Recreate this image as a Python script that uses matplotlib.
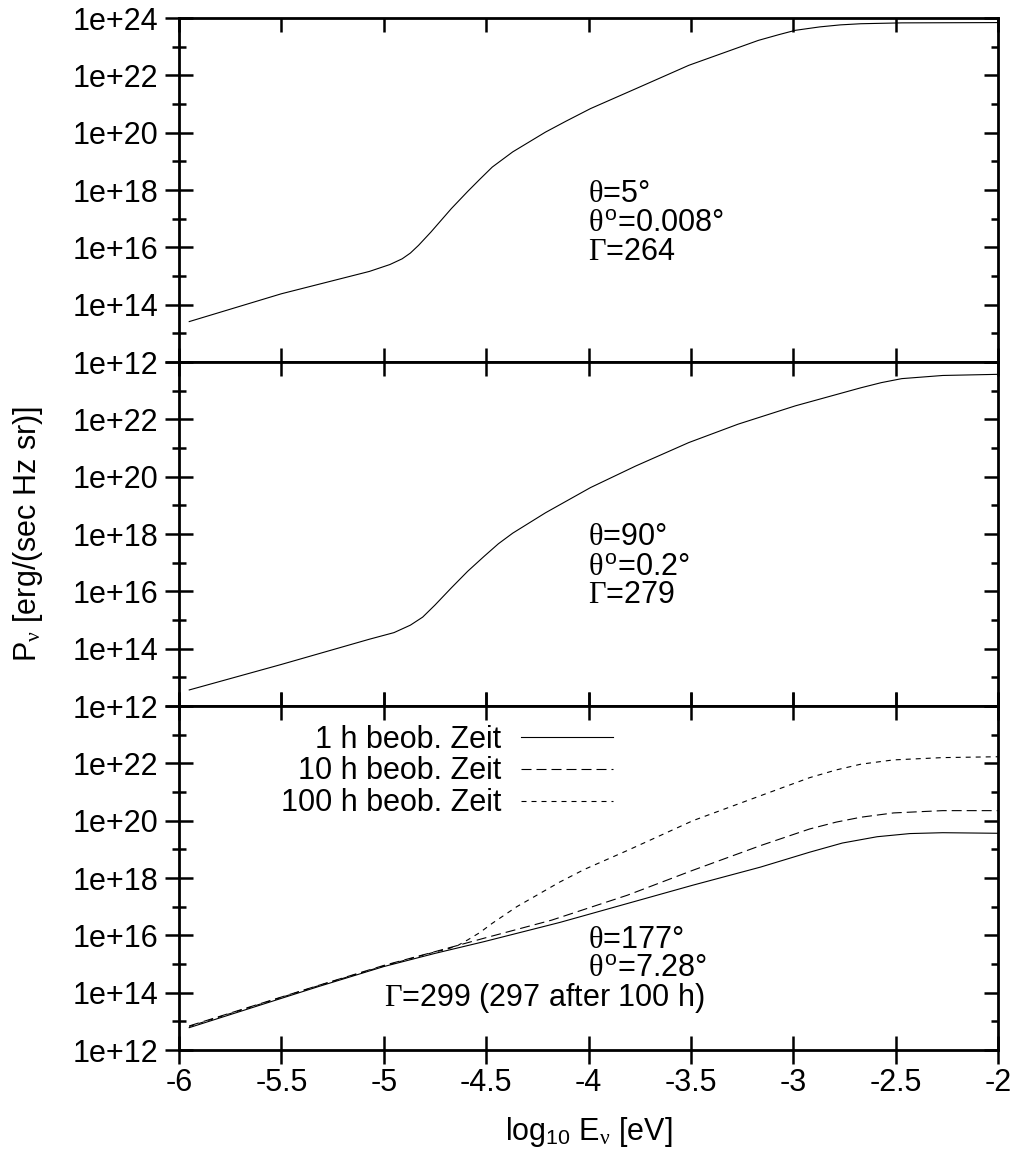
import numpy as np
import matplotlib
matplotlib.use("Agg")
import matplotlib.pyplot as plt
from matplotlib.ticker import FixedLocator, FuncFormatter, NullFormatter, NullLocator

plt.rcParams['font.family'] = ['Liberation Sans', 'DejaVu Sans']
plt.rcParams['mathtext.fontset'] = 'custom'
plt.rcParams['mathtext.rm'] = 'Liberation Serif'
plt.rcParams['mathtext.it'] = 'Liberation Serif'
plt.rcParams['mathtext.sf'] = 'Liberation Sans'
plt.rcParams['axes.unicode_minus'] = False

FS = 22

# --- data (x = log10 E, y = log10 P) ---
x_top = [-5.95, -5.5, -5.07, -4.97, -4.91, -4.87, -4.83, -4.77, -4.67, -4.59,
         -4.53, -4.47, -4.37, -4.21, -4.11, -3.99, -3.77, -3.51, -3.17, -3.07,
         -2.99, -2.87, -2.77, -2.67, -2.47, -2.0]
logp_top = [13.41, 14.38, 15.16, 15.40, 15.60, 15.80, 16.07, 16.53, 17.35, 17.95,
            18.38, 18.80, 19.33, 20.02, 20.40, 20.84, 21.53, 22.35, 23.22, 23.42,
            23.57, 23.69, 23.76, 23.80, 23.83, 23.84]

x_mid = [-5.95, -5.5, -5.07, -4.95, -4.87, -4.81, -4.75, -4.67, -4.59, -4.51,
         -4.44, -4.37, -4.21, -3.99, -3.77, -3.51, -3.27, -2.99, -2.67, -2.57,
         -2.47, -2.27, -2.0]
logp_mid = [12.56, 13.45, 14.33, 14.56, 14.82, 15.10, 15.52, 16.12, 16.70, 17.22,
            17.66, 18.03, 18.74, 19.62, 20.37, 21.19, 21.83, 22.47, 23.10, 23.28,
            23.42, 23.53, 23.57]

x_1h = [-5.95, -5.32, -5.0, -4.75, -4.51, -4.14, -3.81, -3.49, -3.16, -2.92,
        -2.76, -2.59, -2.43, -2.27, -2.0]
logp_1h = [12.78, 14.21, 14.91, 15.37, 15.78, 16.45, 17.11, 17.75, 18.38, 18.90,
           19.22, 19.44, 19.55, 19.58, 19.56]

x_10h = [-5.95, -5.32, -5.0, -4.75, -4.51, -4.18, -3.81, -3.49, -3.16, -2.92,
         -2.79, -2.67, -2.51, -2.27, -2.0]
logp_10h = [12.84, 14.25, 14.95, 15.43, 15.90, 16.53, 17.40, 18.27, 19.13, 19.71,
            19.95, 20.12, 20.27, 20.35, 20.35]

x_100h = [-5.95, -5.32, -5.0, -4.75, -4.69, -4.64, -4.59, -4.53, -4.47, -4.35,
          -4.14, -4.02, -3.81, -3.49, -3.16, -2.92, -2.79, -2.67, -2.51, -2.27, -2.0]
logp_100h = [12.82, 14.24, 14.93, 15.42, 15.52, 15.64, 15.84, 16.1, 16.42, 17.0,
             17.86, 18.30, 18.96, 20.0, 20.87, 21.50, 21.77, 21.97, 22.12, 22.20, 22.23]

xticks = [-6, -5.5, -5, -4.5, -4, -3.5, -3, -2.5, -2]
ymajor = [1e12, 1e14, 1e16, 1e18, 1e20, 1e22, 1e24]
yminor = [1e13, 1e15, 1e17, 1e19, 1e21, 1e23]

labels_top = [r"$\theta$=5°", r"$\theta^{\mathsf{o}}$=0.008°", r"$\Gamma$=264"]
labels_mid = [r"$\theta$=90°", r"$\theta^{\mathsf{o}}$=0.2°", r"$\Gamma$=279"]
labels_bot = [r"$\theta$=177°", r"$\theta^{\mathsf{o}}$=7.28°",
              r"$\Gamma$=299 (297 after 100 h)"]

W, H = 1017, 1151
fig = plt.figure(figsize=(W / 100, H / 100), dpi=100)

left = 179 / W
width = (998 - 179) / W
ph = 344 / H
ax_top = fig.add_axes([left, 1 - 362 / H, width, ph])
ax_mid = fig.add_axes([left, 1 - 706 / H, width, ph])
ax_bot = fig.add_axes([left, 1 - 1050 / H, width, ph])


def exp_fmt(show_top):
    def f(v, pos):
        e = int(round(np.log10(v)))
        if e == 24 and not show_top:
            return ""
        return "1e+%d" % e
    return f


def style(ax, show_top_label, is_bottom):
    ax.set_yscale('log')
    ax.set_xlim(-6, -2)
    ax.set_ylim(1e12, 1e24)
    ax.yaxis.set_major_locator(FixedLocator(ymajor))
    ax.yaxis.set_minor_locator(FixedLocator(yminor))
    ax.yaxis.set_major_formatter(FuncFormatter(exp_fmt(show_top_label)))
    ax.yaxis.set_minor_formatter(NullFormatter())
    ax.xaxis.set_major_locator(FixedLocator(xticks))
    ax.xaxis.set_minor_locator(NullLocator())
    ax.xaxis.set_major_formatter(FuncFormatter(lambda v, p: "%g" % v))
    for s in ax.spines.values():
        s.set_linewidth(2.0)
    ax.tick_params(axis='y', which='major', direction='inout', length=20, width=1.8,
                   left=True, right=False, labelsize=FS, pad=5)
    ax.tick_params(axis='y', which='minor', direction='inout', length=10, width=1.8,
                   left=True, right=False)
    if is_bottom:
        ax.tick_params(axis='x', which='major', direction='inout', length=20, width=1.8,
                       top=True, bottom=True, labelbottom=True, labelsize=FS, pad=3)
    else:
        ax.tick_params(axis='x', which='major', direction='in', length=10, width=1.8,
                       top=True, bottom=True, labelbottom=False)
    # right-hand ticks point inward only
    ar = ax.twinx()
    ar.set_yscale('log')
    ar.set_ylim(1e12, 1e24)
    ar.yaxis.set_major_locator(FixedLocator(ymajor))
    ar.yaxis.set_minor_locator(FixedLocator(yminor))
    ar.yaxis.set_major_formatter(NullFormatter())
    ar.yaxis.set_minor_formatter(NullFormatter())
    ar.tick_params(axis='y', which='major', direction='in', length=10, width=1.8)
    ar.tick_params(axis='y', which='minor', direction='in', length=5, width=1.8)
    for s in ar.spines.values():
        s.set_visible(False)


def annotate(ax, lines, xs, ys):
    tr = ax.get_xaxis_transform()
    for txt, xx, yy in zip(lines, xs, ys):
        ax.text(xx, yy, txt, transform=tr, fontsize=FS, ha='left', va='baseline')


lw = 0.8
ax_top.plot(x_top, 10.0 ** np.array(logp_top), color='black', lw=lw)
ax_mid.plot(x_mid, 10.0 ** np.array(logp_mid), color='black', lw=lw)
ax_bot.plot(x_1h, 10.0 ** np.array(logp_1h), color='black', lw=lw,
            label='1 h beob. Zeit')
ax_bot.plot(x_10h, 10.0 ** np.array(logp_10h), color='black', lw=lw,
            dashes=(9, 4.5), label='10 h beob. Zeit')
ax_bot.plot(x_100h, 10.0 ** np.array(logp_100h), color='black', lw=lw,
            dashes=(4.5, 4.5), label='100 h beob. Zeit')

style(ax_top, True, False)
style(ax_mid, False, False)
style(ax_bot, False, True)

annotate(ax_top, labels_top, [-4.0, -4.0, -4.0], [0.465, 0.377, 0.297])
annotate(ax_mid, labels_mid, [-4.0, -4.0, -4.0], [0.468, 0.377, 0.300])
annotate(ax_bot, labels_bot, [-4.0, -4.0, -5.0], [0.297, 0.211, 0.128])

ax_bot.legend(loc='upper right', bbox_to_anchor=(0.530, 0.946), frameon=False,
              markerfirst=False, fontsize=FS, handlelength=3.0, handletextpad=0.67,
              labelspacing=0.06, borderpad=0, borderaxespad=0)

ax_mid.set_ylabel(r"P$_\nu$ [erg/(sec Hz sr)]", fontsize=FS, labelpad=20)
ax_bot.set_xlabel(r"log$_{\mathsf{10}}$ E$_\nu$ [eV]", fontsize=FS, labelpad=12)

fig.savefig("out.png", dpi=100)
